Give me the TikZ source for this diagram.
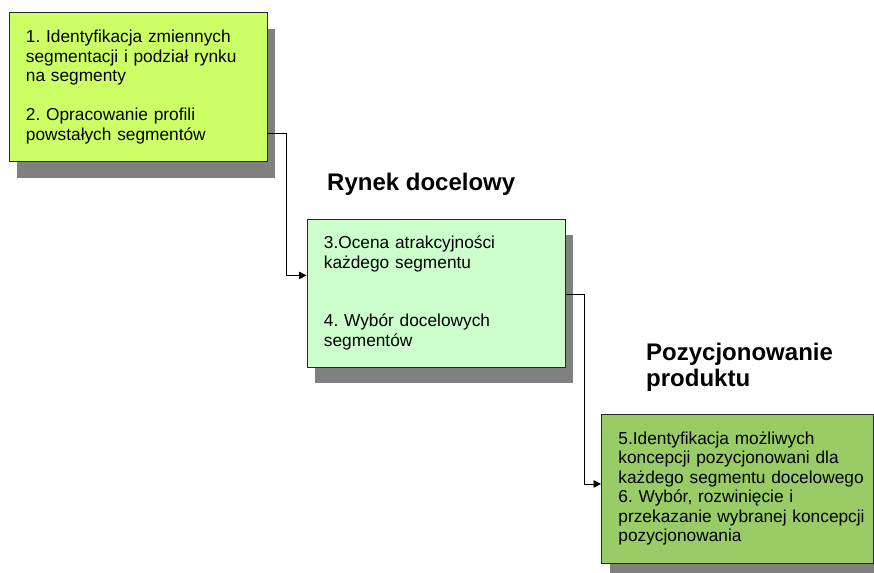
\documentclass[tikz,border=0pt]{standalone}
\usepackage{fontspec}
\setmainfont{Liberation Sans}
\usetikzlibrary{arrows.meta,shadows}
\definecolor{limegreen}{HTML}{CCFF66}
\definecolor{palegreen}{HTML}{CCFFCC}
\definecolor{olivegreen}{HTML}{99CC66}
\definecolor{shadowgray}{HTML}{808080}
\hfuzz=20pt
\frenchspacing
\begin{document}
\begin{tikzpicture}[x=1pt,y=-1pt,
        box/.style={draw=black!85, line width=0.9pt, anchor=north west,
            inner xsep=17pt, inner ysep=0pt, align=left,
            font=\fontsize{17.3}{19.5}\selectfont,
            drop shadow={shadow xshift=8.5pt, shadow yshift=-16pt, fill=shadowgray, opacity=1}},
        title/.style={inner sep=0pt, align=left, font=\fontsize{24}{26}\selectfont\bfseries},
        conn/.style={line width=0.9pt, -{Triangle[length=7.5pt,width=7.5pt]}}]
            \useasboundingbox (0,0) rectangle (874,572);

            \node[box, fill=limegreen, text width=224pt, minimum height=149pt] (segm) at (8.5, 12.5)
                {\strut 1. Identyfikacja zmiennych\\ segmentacji i podział rynku\\ na segmenty\\[19.5pt]
                 2. Opracowanie profili\\ powstałych segmentów\strut};
            \node[box, fill=palegreen, text width=224pt, minimum height=148pt] (rynek) at (306.5, 219)
                {\strut 3.Ocena atrakcyjności\\ każdego segmentu\\[39pt]
                 4. Wybór docelowych\\ segmentów\strut};
            \node[box, fill=olivegreen, text width=238pt, minimum height=149pt] (pozyc) at (601, 414)
                {\strut 5.Identyfikacja możliwych\\ \mbox{koncepcji pozycjonowani dla}\\
                 \mbox{każdego segmentu docelowego}\\ 6. Wybór, rozwinięcie i\\
                 \mbox{przekazanie wybranej koncepcji}\\ pozycjonowania\strut};

            \node[title, anchor=base west] (rynektitle) at (327, 190) {Rynek docelowy};
            \node[title, anchor=north west] (pozyctitle) at (646, 341.8) {\strut Pozycjonowanie\\ produktu};

            \draw[conn] ([yshift=29pt]segm.south east) -- ++(19.5, 0) |- ([yshift=18pt]rynek.west);
            \draw[conn] ([yshift=-1pt]rynek.east) -- ++(19.5, 0) |- ([yshift=5pt]pozyc.west);
        \end{tikzpicture}
\end{document}
